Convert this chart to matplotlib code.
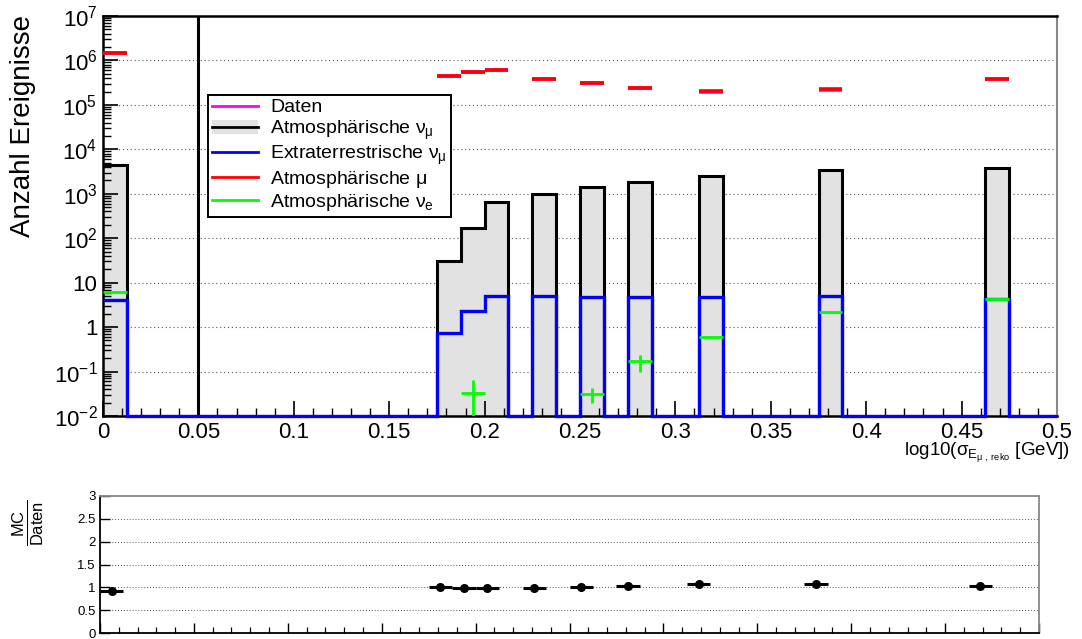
import numpy as np
import matplotlib
matplotlib.use("Agg")
import matplotlib.pyplot as plt
from matplotlib.lines import Line2D
from matplotlib.patches import Patch
from matplotlib.ticker import MultipleLocator, LogLocator, FuncFormatter, NullFormatter

plt.rcParams['font.family'] = ['Liberation Sans', 'DejaVu Sans']
plt.rcParams['mathtext.fontset'] = 'custom'
plt.rcParams['mathtext.rm'] = 'Liberation Sans'
plt.rcParams['mathtext.it'] = 'Liberation Sans'
plt.rcParams['mathtext.bf'] = 'Liberation Sans:bold'

# Histogram binning (40 bins from 0 to 0.5)
bin_width = 0.0125
n_bins = 40

# Lower edges of the filled bins and their contents
bin_low = [0.0, 0.175, 0.1875, 0.2, 0.225, 0.25, 0.275, 0.3125, 0.375, 0.4625]
atm_numu = [4400, 30, 170, 640, 990, 1420, 1870, 2550, 3470, 3800]
astro_numu = [4.1, 0.75, 2.3, 5.1, 4.9, 4.7, 4.7, 4.7, 4.9, 4.3]
atm_mu = [1.45e6, 4.5e5, 5.4e5, 6.1e5, 3.76e5, 3.05e5, 2.4e5, 2.05e5, 2.24e5, 3.8e5]
atm_nue = [6.2, 0, 0.033, 0, 0, 0.031, 0.17, 0.6, 2.2, 4.3]
atm_nue_err = [0.3, 0, 0.032, 0, 0, 0.011, 0.07, 0.04, 0.1, 0.2]
daten = [1.5e6, 4.46e5, 5.45e5, 6.16e5, 3.78e5, 3.04e5, 2.38e5, 1.96e5, 2.14e5, 3.75e5]
ratio = [0.91, 1.01, 0.99, 0.99, 0.99, 1.01, 1.03, 1.07, 1.08, 1.04]
ratio_err = [0.02, 0.01, 0.01, 0.01, 0.01, 0.01, 0.01, 0.01, 0.01, 0.01]
cut_value = 0.05

edges = np.arange(n_bins + 1) * bin_width
idx = np.round(np.array(bin_low) / bin_width).astype(int)
centers = np.array(bin_low) + bin_width / 2
half = np.full(len(bin_low), bin_width / 2)

def full(vals):
    arr = np.zeros(n_bins)
    arr[idx] = vals
    return arr

numu_full = full(atm_numu)
astro_full = full(astro_numu)

fig = plt.figure(figsize=(10.82, 6.39), dpi=100)
ax = fig.add_axes([103 / 1082, 1 - 416 / 639, 954 / 1082, 400 / 639])
ax.set_yscale('log')
ax.set_xlim(0, 0.5)
ax.set_ylim(1e-2, 1e7)

# grid
for d in range(-1, 7):
    ax.axhline(10.0 ** d, color='#555555', lw=0.8, ls=(0, (1, 2.5)), zorder=0)

# atmospheric nu_mu: gray fill + black outline
ax.stairs(numu_full, edges, fill=True, baseline=1e-3, color='#e2e2e2', zorder=1)
ax.stairs(np.clip(numu_full, 1e-2, None), edges, baseline=None, color='black', lw=2.2, zorder=2)

# cut line
ax.axvline(cut_value, color='black', lw=2.2, zorder=2)

# extraterrestrial nu_mu
ax.stairs(np.clip(astro_full, 1e-2, None), edges, baseline=None, color='#0000ff', lw=2.4,
          zorder=3, clip_on=False)

# data
ax.errorbar(centers, daten, xerr=half, yerr=np.sqrt(daten), fmt='none', ecolor='#ff00ff',
            elinewidth=2.6, capsize=0, zorder=4)
# atmospheric mu
ax.hlines(atm_mu, np.array(bin_low), np.array(bin_low) + bin_width, color='#ff0000', lw=2.6, zorder=5)

# atmospheric nu_e
nue = np.array(atm_nue)
m = nue > 0
ax.errorbar(centers[m], nue[m], xerr=half[m], yerr=np.array(atm_nue_err)[m], fmt='none',
            ecolor='#00ff00', elinewidth=2.0, capsize=0, zorder=6)

# axes style
ax.xaxis.set_major_locator(MultipleLocator(0.05))
ax.xaxis.set_minor_locator(MultipleLocator(0.01))
ax.xaxis.set_major_formatter(FuncFormatter(lambda v, p: '%g' % round(v, 3)))
ax.yaxis.set_major_locator(LogLocator(base=10, numticks=20))
ax.yaxis.set_minor_locator(LogLocator(base=10, subs=np.arange(2, 10), numticks=20))
ax.yaxis.set_minor_formatter(NullFormatter())

def logfmt(v, p):
    e = int(round(np.log10(v)))
    if e == 0:
        return '1'
    if e == 1:
        return '10'
    return r'$\mathregular{10^{%d}}$' % e

ax.yaxis.set_major_formatter(FuncFormatter(logfmt))
ax.tick_params(axis='both', which='both', direction='in', top=False, right=False)
ax.tick_params(axis='both', which='major', length=11, width=1.2, labelsize=16, pad=4)
ax.tick_params(axis='both', which='minor', length=6, width=1.0)
for s in ['left', 'top', 'bottom']:
    ax.spines[s].set_linewidth(1.8)
    ax.spines[s].set_color('black')
ax.spines['right'].set_color('#888888')
ax.spines['right'].set_linewidth(1.5)

ax.text(1.0136, -0.062, r'log10($\sigma_{E_{\mu\ ,\ reko}}$ [GeV])', transform=ax.transAxes,
        ha='right', va='top', fontsize=13.5)
fig.text(23 / 1082, 1 - 15 / 639, 'Anzahl Ereignisse', rotation=90, ha='center', va='top',
         fontsize=20)

handles = [
    Line2D([], [], color='#ff00ff', lw=2),
    (Patch(facecolor='#e2e2e2', edgecolor='none'), Line2D([], [], color='black', lw=2)),
    Line2D([], [], color='#0000ff', lw=2),
    Line2D([], [], color='#ff0000', lw=2),
    Line2D([], [], color='#00ff00', lw=2),
]
labels = ['Daten', r'Atmosphärische $\nu_{\mu}$', r'Extraterrestrische $\nu_{\mu}$',
          r'Atmosphärische $\mu$', r'Atmosphärische $\nu_{e}$']
leg = ax.legend(handles, labels, loc='upper left', bbox_to_anchor=(0.110, 0.8025),
                borderaxespad=0, fontsize=14, frameon=True, fancybox=False, framealpha=1,
                edgecolor='black', handlelength=2.4, labelspacing=0.1, borderpad=0.2,
                handletextpad=0.6)
leg.get_frame().set_linewidth(1.4)
leg.set_zorder(10)

# ratio panel
rx = fig.add_axes([100 / 1082, 1 - 633 / 639, 939 / 1082, 137 / 639])
rx.set_xlim(0, 0.5)
rx.set_ylim(0, 3)
for g in [0.5, 1.0, 1.5, 2.0, 2.5]:
    rx.axhline(g, color='#555555', lw=0.7, ls=(0, (1, 2)), zorder=0)
rx.errorbar(centers, ratio, xerr=half, yerr=ratio_err, fmt='o', color='black', ms=5.5,
            elinewidth=2.2, capsize=0, zorder=3)
rx.xaxis.set_major_locator(MultipleLocator(0.05))
rx.xaxis.set_minor_locator(MultipleLocator(0.01))
rx.xaxis.set_major_formatter(NullFormatter())
rx.yaxis.set_major_locator(MultipleLocator(0.5))
rx.yaxis.set_major_formatter(FuncFormatter(lambda v, p: '%g' % v))
rx.tick_params(axis='both', which='both', direction='in', top=False, right=False)
rx.tick_params(axis='both', which='major', length=7, width=1.0, labelsize=9.5, pad=3)
rx.tick_params(axis='x', which='minor', length=4, width=0.9)
for s in rx.spines.values():
    s.set_color('#888888')
    s.set_linewidth(1.3)
rx.spines['bottom'].set_color('black')
rx.spines['left'].set_color('black')
fig.text(28 / 1082, 1 - 523 / 639, r'$\frac{\mathregular{MC}}{\mathregular{Daten}}$',
         rotation=90, ha='center', va='center', fontsize=17)

fig.savefig('out.png', dpi=100)
